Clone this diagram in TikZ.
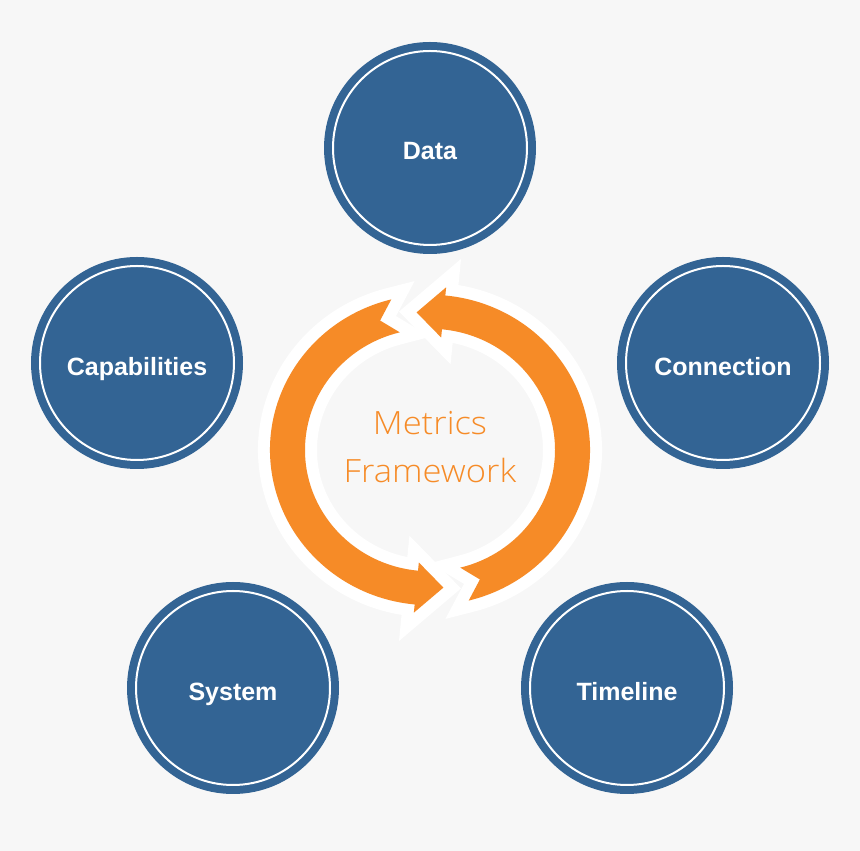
\documentclass[tikz,border=0pt]{standalone}
\usepackage{fontspec}
\usepackage{graphicx}
\setmainfont{Liberation Sans}
\IfFontExistsTF{Open Sans Light}{\newfontfamily\lightfont{Open Sans Light}}{\newfontfamily\lightfont{Liberation Sans}}
\definecolor{bluec}{HTML}{336494}
\definecolor{orangec}{HTML}{F68B27}
\definecolor{bgc}{HTML}{F7F7F7}
\tikzset{
  bluecirc/.style={circle, fill=bluec, minimum size=212pt, inner sep=0pt,
    path picture={\draw[white, line width=2pt] (path picture bounding box.center) circle (97pt);}},
  lbl/.style={anchor=base, text=white, font=\bfseries\fontsize{25}{30}\selectfont, inner sep=0pt},
  centertxt/.style={anchor=base, text=orangec, font=\lightfont\fontsize{32}{36}\selectfont, inner sep=0pt},
  halo/.style={draw=white, line width=24pt, line join=miter, miter limit=10},
  arrowfill/.style={fill=orangec},
}
\newcommand\ringarrow{(-76:160) arc[start angle=-76, end angle=84.5, radius=160]
  -- (84.5:168.5) -- (95.4:142.5) -- (84.5:116.5) -- (84.5:125)
  arc[start angle=84.5, end angle=-76, radius=125] -- (-69.5:142.5) -- cycle}
\begin{document}
\begin{tikzpicture}[x=1pt,y=1pt]
\fill[bgc] (0,0) rectangle (860,851);
\useasboundingbox (0,0) rectangle (860,851);
\begin{scope}[shift={(430,401)}, yscale=0.97]
  \path[halo] \ringarrow;
  \path[halo, rotate=180] \ringarrow;
  \path[arrowfill] \ringarrow;
  \path[arrowfill, rotate=180] \ringarrow;
\end{scope}
\node[centertxt] (metrics) at (430,416) {\scalebox{1.08}[1]{Metrics}};
\node[centertxt] (framework) at (430,368) {\scalebox{1.08}[1]{Framework}};
\node[bluecirc] (data) at (430,703) {};
\node[bluecirc] (cap) at (137,488) {};
\node[bluecirc] (conn) at (723,488) {};
\node[bluecirc] (sys) at (233,163) {};
\node[bluecirc] (time) at (627,163) {};
\node[lbl] (datal) at ([yshift=-12pt]data.center) {Data};
\node[lbl] (capl) at ([yshift=-13pt]cap.center) {Capabilities};
\node[lbl] (connl) at ([yshift=-13pt]conn.center) {Connection};
\node[lbl] (sysl) at ([yshift=-13pt]sys.center) {System};
\node[lbl] (timel) at ([yshift=-13pt]time.center) {Timeline};
\end{tikzpicture}
\end{document}
